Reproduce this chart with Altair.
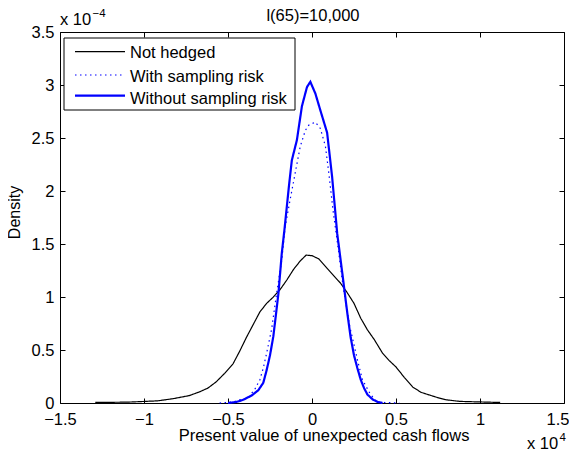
import altair as alt
import pandas as pd

series_names = ["Not hedged", "With sampling risk", "Without sampling risk"]
series_colors = ["#000000", "#0000ff", "#0000ff"]

# x in units of 1e4, density in units of 1e-4
nh_x = [-1.29, -1.1, -0.92, -0.83, -0.73, -0.67, -0.62, -0.57, -0.52, -0.47, -0.43, -0.39,
        -0.35, -0.31, -0.27, -0.23, -0.19, -0.15, -0.11, -0.07, -0.035, 0.0, 0.04, 0.09,
        0.13, 0.17, 0.21, 0.25, 0.29, 0.33, 0.37, 0.42, 0.46, 0.5, 0.55, 0.6, 0.65, 0.7,
        0.75, 0.8, 0.88, 1.0, 1.12]
nh_y = [0.005, 0.008, 0.02, 0.04, 0.07, 0.105, 0.14, 0.2, 0.28, 0.37, 0.49, 0.62,
        0.74, 0.86, 0.94, 1.0, 1.07, 1.16, 1.26, 1.34, 1.395, 1.39, 1.36, 1.27,
        1.2, 1.13, 1.04, 0.94, 0.8, 0.69, 0.6, 0.47, 0.4, 0.34, 0.24, 0.15, 0.1, 0.075,
        0.05, 0.03, 0.015, 0.01, 0.005]

ws_x = [-0.55, -0.47, -0.43, -0.38, -0.34, -0.31, -0.29, -0.27, -0.24, -0.21, -0.18,
        -0.16, -0.13, -0.1, -0.07, -0.04, -0.02, 0.02, 0.05, 0.08, 0.1, 0.125, 0.155,
        0.185, 0.225, 0.25, 0.27, 0.3, 0.345, 0.385, 0.43, 0.47, 0.52]
ws_y = [0.0, 0.01, 0.03, 0.05, 0.13, 0.22, 0.33, 0.47, 0.7, 1.04, 1.35,
        1.66, 1.92, 2.17, 2.42, 2.57, 2.62, 2.65, 2.59, 2.42, 2.17, 1.82, 1.47,
        1.1, 0.72, 0.55, 0.41, 0.22, 0.09, 0.01, 0.005, 0.003, 0.0]

wo_x = [-0.5, -0.45, -0.41, -0.36, -0.32, -0.29, -0.27, -0.25, -0.23, -0.215, -0.2,
        -0.18, -0.165, -0.15, -0.135, -0.12, -0.09, -0.06, -0.03, -0.01, 0.02, 0.05,
        0.09, 0.12, 0.15, 0.18, 0.21, 0.23, 0.25, 0.27, 0.29, 0.31, 0.33, 0.36, 0.39, 0.42]
wo_y = [0.0, 0.01, 0.03, 0.07, 0.12, 0.19, 0.31, 0.45, 0.63, 0.83, 1.03,
        1.41, 1.62, 1.85, 2.08, 2.29, 2.48, 2.8, 2.98, 3.03, 2.92, 2.76,
        2.55, 2.13, 1.6, 1.23, 0.85, 0.62, 0.45, 0.33, 0.22, 0.14, 0.08, 0.035, 0.01, 0.0]

x_ticks = [-1.5, -1, -0.5, 0, 0.5, 1, 1.5]
y_ticks = [0, 0.5, 1, 1.5, 2, 2.5, 3, 3.5]

title_text = "l(65)=10,000"
x_title = "Present value of unexpected cash flows"
y_title = "Density"

rows = []
for name, xs, ys in zip(series_names, [nh_x, ws_x, wo_x], [nh_y, ws_y, wo_y]):
    for i, (a, b) in enumerate(zip(xs, ys)):
        rows.append({"series": name, "x": a, "y": b, "i": i})
df = pd.DataFrame(rows)

W, H = 504, 371
FONT = "Liberation Sans"
FS = 16.5
DASHES = [[1, 0], [1.5, 3.5], [1, 0]]
WIDTHS = [1.2, 1.2, 2.2]

xscale = alt.Scale(domain=[-1.5, 1.5], nice=False, zero=False)
yscale = alt.Scale(domain=[0, 3.5], nice=False, zero=False)

last_x = "datum.value === 1.5"
x_axis = alt.Axis(values=x_ticks, format="~g", title=None, grid=False, domain=False,
                  tickSize=5, offset=-5, labelPadding=8, tickColor="black",
                  labelColor="black", labelFont=FONT, labelFontSize=FS,
                  labelFlush=False, labelOverlap=False,
                  labelAlign={"condition": {"test": last_x, "value": "right"}, "value": "center"},
                  labelOffset={"condition": {"test": last_x, "value": 5}, "value": 0})
y_axis = alt.Axis(values=y_ticks, format="~g", title=None, grid=False, domain=False,
                  tickSize=5, offset=-5, labelPadding=6, tickColor="black",
                  labelColor="black", labelFont=FONT, labelFontSize=FS,
                  labelFlush=False, labelOverlap=False)
x_axis_top = alt.Axis(values=x_ticks, orient="top", labels=False, title=None, grid=False,
                      domain=False, tickSize=5, offset=-5, tickColor="black")
y_axis_right = alt.Axis(values=y_ticks, orient="right", labels=False, title=None, grid=False,
                        domain=False, tickSize=5, offset=-5, tickColor="black")

base = alt.Chart(df)


def series_layer(k, with_axes):
    name = series_names[k]
    xa = x_axis if with_axes else None
    ya = y_axis if with_axes else None
    return base.transform_filter(alt.datum.series == name).mark_line(
        strokeWidth=WIDTHS[k], strokeDash=DASHES[k], color=series_colors[k]
    ).encode(
        x=alt.X("x:Q", scale=xscale, axis=xa),
        y=alt.Y("y:Q", scale=yscale, axis=ya),
        order="i:Q",
    )


frame = base.transform_filter(alt.datum.series == series_names[0]).mark_line(opacity=0).encode(
    x=alt.X("x:Q", scale=xscale, axis=x_axis_top),
    y=alt.Y("y:Q", scale=yscale, axis=y_axis_right),
)


def one():
    return alt.Chart(pd.DataFrame({"t": [""]}))


def txt(s, x, y, size=FS, align="left", angle=0):
    return alt.Chart(pd.DataFrame({"t": [s]})).mark_text(
        align=align, baseline="alphabetic", font=FONT, fontSize=size, angle=angle, color="black"
    ).encode(text="t:N", x=alt.value(x), y=alt.value(y))


texts = [
    txt(title_text, 253, -11, align="center"),
    txt(x_title, 264, 409, align="center"),
    txt(y_title, -40.5, 180.5, size=16, align="center", angle=270),
    txt("x 10", 0, -7),
    txt("\u22124", 32.5, -15, size=11.5),
    txt("x 10", 467, 417),
    txt("4", 499.5, 409, size=11.5),
]

# MATLAB-style legend box drawn inside the axes
legend_box = one().mark_rect(fill="white", stroke="black", strokeWidth=1).encode(
    x=alt.value(4), x2=alt.value(235), y=alt.value(6), y2=alt.value(78)
)
legend_line_y = [19.7, 43.0, 63.7]
legend_text_y = [26.3, 49.7, 72.3]
legend_parts = [legend_box]
for k in range(3):
    legend_parts.append(
        one().mark_rule(color=series_colors[k], strokeWidth=WIDTHS[k], strokeDash=DASHES[k]).encode(
            x=alt.value(15), x2=alt.value(65), y=alt.value(legend_line_y[k])
        )
    )
    legend_parts.append(txt(series_names[k], 70, legend_text_y[k]))

chart = alt.layer(
    series_layer(0, True),
    series_layer(1, False),
    series_layer(2, False),
    frame,
    *legend_parts,
    *texts,
).resolve_axis(x="independent", y="independent").properties(
    width=W, height=H,
    autosize=alt.AutoSizeParams(type="none"),
    padding={"left": 52, "top": 24, "right": 5, "bottom": 50},
).configure_view(stroke="black", strokeWidth=1)

chart.save("out.html", embed_options={"renderer": "svg", "actions": False})
